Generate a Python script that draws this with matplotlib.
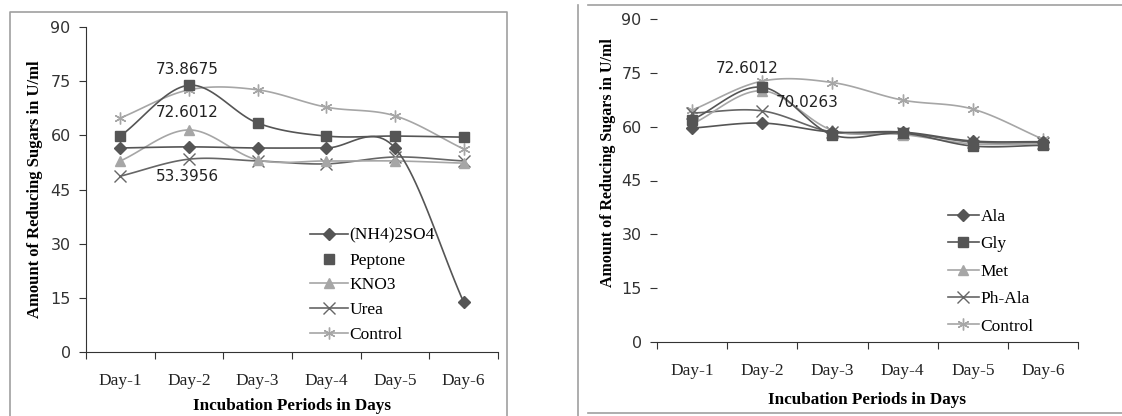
import numpy as np
import matplotlib
matplotlib.use("Agg")
import matplotlib.pyplot as plt
from matplotlib.lines import Line2D

# ── data ────────────────────────────────────────────────────────────────────
days = ["Day-1", "Day-2", "Day-3", "Day-4", "Day-5", "Day-6"]

# panel (a): nitrogen sources
nh4so4  = [56.5, 56.8, 56.5, 56.5, 56.5, 13.8]
peptone = [59.8, 73.87, 63.4, 59.8, 59.8, 59.5]
kno3    = [52.9, 61.5, 53.2, 52.9, 52.9, 52.3]
urea    = [48.7, 53.4, 52.9, 52.1, 54.0, 52.9]
control_a = [64.8, 72.6, 72.6, 67.8, 65.4, 56.2]

# panel (b): amino acids
ala    = [59.6, 61.0, 58.5, 58.5, 56.0, 55.8]
gly    = [61.9, 71.0, 57.7, 58.2, 54.6, 54.8]
met    = [60.7, 70.0, 59.0, 57.8, 55.2, 55.2]
phala  = [63.8, 64.4, 58.5, 58.3, 55.7, 55.5]
control_b = [64.6, 72.7, 72.3, 67.4, 64.9, 56.5]

yticks = [0, 15, 30, 45, 60, 75, 90]

DARK = "#555555"
MID = "#666666"
LIGHT = "#a6a6a6"
SERIF = ["Liberation Serif", "DejaVu Serif"]
STAR = (6, 2, 0)


def smooth(xs, ys, n=24):
    """Catmull-Rom curve through the points (Excel-style smoothed line)."""
    p = np.column_stack([xs, ys]).astype(float)
    p = np.vstack([p[0] - (p[1] - p[0]), p, p[-1] + (p[-1] - p[-2])])
    out = []
    t = np.linspace(0, 1, n)[:, None]
    for i in range(1, len(p) - 2):
        p0, p1, p2, p3 = p[i - 1], p[i], p[i + 1], p[i + 2]
        seg = 0.5 * ((2 * p1) + (-p0 + p2) * t + (2 * p0 - 5 * p1 + 4 * p2 - p3) * t ** 2
                     + (-p0 + 3 * p1 - 3 * p2 + p3) * t ** 3)
        out.append(seg if i == 1 else seg[1:])
    out = np.vstack(out)
    return out[:, 0], out[:, 1]


def draw_series(ax, ys, color, marker, ms, mew=1.0):
    xs = np.arange(1, len(ys) + 1)
    sx, sy = smooth(xs, ys)
    ax.plot(sx, sy, color=color, lw=1.2)
    ax.plot(xs, ys, linestyle="none", marker=marker, ms=ms, color=color,
            mec=color, mew=mew)


def style_axes(ax, ylabel_size, show_yspine=True):
    ax.set_xlim(0.5, 6.5)
    ax.set_ylim(0, 90)
    ax.set_yticks(yticks)
    ax.set_xticks(np.arange(0.5, 7.0, 1.0))
    ax.set_xticklabels([])
    ax.set_xticks(np.arange(1, 7), minor=True)
    ax.set_xticklabels(days, minor=True, fontfamily=SERIF, fontsize=12.5, color="#222222")
    ax.tick_params(axis="x", which="minor", length=0, pad=15)
    ax.tick_params(axis="x", which="major", length=5, color="#333333", direction="out")
    ax.tick_params(axis="y", length=5, color="#333333", labelsize=11.5,
                   labelcolor="#333333", pad=6)
    for lab in ax.get_yticklabels():
        lab.set_fontfamily(["DejaVu Sans"])
    for s in ["top", "right"]:
        ax.spines[s].set_visible(False)
    ax.spines["left"].set_visible(show_yspine)
    ax.spines["bottom"].set_color("#333333")
    ax.spines["left"].set_color("#333333")
    ax.set_xlabel("Incubation Periods in Days", fontfamily=SERIF, fontweight="bold",
                  fontsize=12.3)
    ax.set_ylabel("Amount of Reducing Sugars in U/ml", fontfamily=SERIF,
                  fontweight="bold", fontsize=ylabel_size)


fig = plt.figure(figsize=(11.22, 4.16), dpi=100)

# ── panel (a) ───────────────────────────────────────────────────────────────
ax1 = fig.add_axes([86 / 1122, 1 - 352 / 416, 412 / 1122, 325 / 416])
draw_series(ax1, control_a, LIGHT, STAR, 8.5)
draw_series(ax1, urea, MID, "x", 8)
draw_series(ax1, kno3, LIGHT, "^", 7.5)
draw_series(ax1, peptone, DARK, "s", 7.5)
draw_series(ax1, nh4so4, DARK, "D", 6.5)
style_axes(ax1, 12.0)
ax1.yaxis.set_label_coords(-0.105, 0.5)
ax1.xaxis.set_label_coords(0.5, -0.14)
ax1.text(1.97, 78.1, "73.8675", ha="center", va="center", fontsize=11, color="#222222")
ax1.text(1.97, 66.2, "72.6012", ha="center", va="center", fontsize=11, color="#222222")
ax1.text(1.97, 48.5, "53.3956", ha="center", va="center", fontsize=11, color="#222222")

handles_a = [
    Line2D([], [], color=DARK, marker="D", ms=6, lw=1.2),
    Line2D([], [], color=DARK, marker="s", ms=7.5, linestyle="none"),
    Line2D([], [], color=LIGHT, marker="^", ms=7.5, lw=1.2),
    Line2D([], [], color=MID, marker="x", ms=8, lw=1.2),
    Line2D([], [], color=LIGHT, marker=STAR, ms=8.5, lw=1.2),
]
fig.legend(handles_a, ["(NH4)2SO4", "Peptone", "KNO3", "Urea", "Control"],
           loc="upper left", bbox_to_anchor=(294 / 1122, 1 - 212 / 416),
           frameon=False, handlelength=2.2, handletextpad=0.1, labelspacing=0.5,
           prop={"family": SERIF, "size": 12.5})

# ── panel (b) ───────────────────────────────────────────────────────────────
ax2 = fig.add_axes([657 / 1122, 1 - 342 / 416, 421 / 1122, 323 / 416])
draw_series(ax2, control_b, LIGHT, STAR, 8.5)
draw_series(ax2, phala, MID, "x", 8)
draw_series(ax2, met, LIGHT, "^", 7.5)
draw_series(ax2, gly, DARK, "s", 7.5)
draw_series(ax2, ala, DARK, "D", 6.5)
style_axes(ax2, 11.5, show_yspine=False)
ax2.yaxis.set_label_coords(-0.097, 0.557)
ax2.xaxis.set_label_coords(0.5, -0.155)
ax2.text(1.79, 76.3, "72.6012", ha="center", va="center", fontsize=11, color="#222222")
ax2.text(2.64, 66.6, "70.0263", ha="center", va="center", fontsize=11, color="#222222")

handles_b = [
    Line2D([], [], color=DARK, marker="D", ms=6, lw=1.2),
    Line2D([], [], color=DARK, marker="s", ms=7.5, lw=1.2),
    Line2D([], [], color=LIGHT, marker="^", ms=7.5, lw=1.2),
    Line2D([], [], color=MID, marker="x", ms=8, lw=1.2),
    Line2D([], [], color=LIGHT, marker=STAR, ms=8.5, lw=1.2),
]
fig.legend(handles_b, ["Ala", "Gly", "Met", "Ph-Ala", "Control"],
           loc="upper left", bbox_to_anchor=(932 / 1122, 1 - 193 / 416),
           frameon=False, handlelength=1.8, handletextpad=0.1, labelspacing=0.65,
           prop={"family": SERIF, "size": 12.5})

# chart-area frames from the screenshot
frame = dict(color="#a0a0a0", lw=1.2, transform=fig.transFigure)
fig.add_artist(Line2D([10 / 1122, 10 / 1122, 507 / 1122, 507 / 1122],
                      [0, 1 - 12 / 416, 1 - 12 / 416, 0], **frame))
fig.add_artist(Line2D([578 / 1122, 578 / 1122], [0, 1 - 5 / 416], **frame))
fig.add_artist(Line2D([588 / 1122, 1], [1 - 5 / 416, 1 - 5 / 416], **frame))
fig.add_artist(Line2D([588 / 1122, 1], [3 / 416, 3 / 416], **frame))

fig.savefig("out.png", dpi=100)
